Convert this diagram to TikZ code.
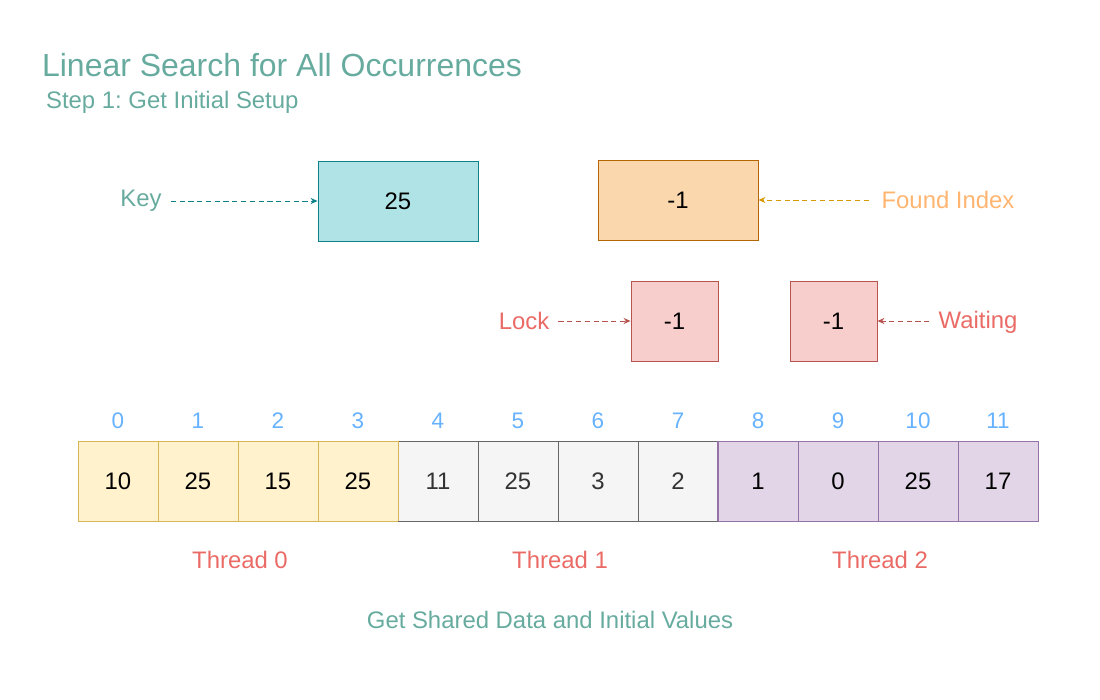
\documentclass[tikz,border=0pt]{standalone}
\usepackage{fontspec}
\setmainfont{Liberation Sans}
\usetikzlibrary{arrows.meta}
\frenchspacing
\definecolor{Mint}{HTML}{67AB9F}
\definecolor{Sky}{HTML}{66B2FF}
\definecolor{Coral}{HTML}{EA6B66}
\definecolor{Peach}{HTML}{FFB570}
\definecolor{TealFill}{HTML}{B0E3E6}
\definecolor{TealLine}{HTML}{0E8088}
\definecolor{OrangeFill}{HTML}{FAD7AC}
\definecolor{OrangeLine}{HTML}{B46504}
\definecolor{OrangeArrow}{HTML}{D79B00}
\definecolor{RedFill}{HTML}{F8CECC}
\definecolor{RedLine}{HTML}{B85450}
\definecolor{YellowFill}{HTML}{FFF2CC}
\definecolor{YellowLine}{HTML}{D6B656}
\definecolor{GreyFill}{HTML}{F5F5F5}
\definecolor{GreyLine}{HTML}{666666}
\definecolor{GreyText}{HTML}{333333}
\definecolor{LilacFill}{HTML}{E1D5E7}
\definecolor{LilacLine}{HTML}{9673A6}

\begin{document}
\begin{tikzpicture}[
  x=0.02cm, y=-0.02cm,
  every node/.style={font=\fontsize{13.6}{16}\selectfont, inner sep=1pt},
  num/.style={font=\fontsize{13.6}{16}\selectfont},
  box/.style={draw, line width=0.5pt, minimum width=3.2cm, minimum height=1.6cm, num},
  small/.style={box, minimum width=1.74cm},
  cell/.style={draw, line width=0.5pt, minimum width=1.6cm, minimum height=1.6cm, num},
  ptr/.style={densely dashed, line width=0.5pt, -{Stealth[length=4pt, width=3.5pt]},
    shorten <=4pt}
]

% canvas in pixel units (1100 x 700)
\useasboundingbox (0,0) rectangle (1100,700);

% ============================================================
% Titles
% ============================================================
\node[Mint, anchor=base west, font=\fontsize{18.2}{22}\selectfont] (title) at (40,76)
  {Linear Search for All Occurrences};
\node[Mint, anchor=base west] (subtitle) at (44,108) {Step 1: Get Initial Setup};

% ============================================================
% Shared values
% ============================================================
\node[box, fill=TealFill, draw=TealLine] (keybox) at (398,201) {25};
\node[box, fill=OrangeFill, draw=OrangeLine] (foundbox) at (678,200) {-1};
\node[small, fill=RedFill, draw=RedLine] (lockbox) at (674.5,321) {-1};
\node[small, fill=RedFill, draw=RedLine] (waitbox) at (833.5,321) {-1};

\node[Mint] (keylbl) at (141,201) {Key};
\node[Peach] (foundlbl) at (948,200) {Found Index};
\node[Coral] (locklbl) at (524,321) {Lock};
\node[Coral] (waitlbl) at (978,322) {Waiting};

\draw[ptr, TealLine] (keylbl.east |- keybox) -- (keybox);
\draw[ptr, OrangeArrow, shorten <=6pt] (foundlbl) -- (foundbox);
\draw[ptr, RedLine] (locklbl) -- (lockbox);
\draw[ptr, RedLine] (waitlbl.west |- waitbox) -- (waitbox);

% ============================================================
% Array split over three threads
% ============================================================
\def\ax{118}  % centre of first cell
\def\ay{481}  % centre row
\foreach \i/\v/\f/\d/\t in {0/10/YellowFill/YellowLine/black, 1/25/YellowFill/YellowLine/black,
    2/15/YellowFill/YellowLine/black, 3/25/YellowFill/YellowLine/black,
    4/11/GreyFill/GreyLine/GreyText, 5/25/GreyFill/GreyLine/GreyText,
    6/3/GreyFill/GreyLine/GreyText, 7/2/GreyFill/GreyLine/GreyText,
    8/1/LilacFill/LilacLine/black, 9/0/LilacFill/LilacLine/black,
    10/25/LilacFill/LilacLine/black, 11/17/LilacFill/LilacLine/black}{
  \node[cell, fill=\f, draw=\d, text=\t] (cell\i) at (\ax+\i*80, \ay) {\v};
  \node[Sky, font=\fontsize{12.8}{15}\selectfont] (idx\i) at (\ax+\i*80, 421) {\i};
}
% redraw thread borders on top
\draw[YellowLine, line width=0.5pt] (cell3.north east) -- (cell3.south east);
\draw[LilacLine, line width=0.5pt] (cell8.north west) -- (cell8.south west);

\node[Coral] (thread0) at (240,560) {Thread 0};
\node[Coral] (thread1) at (560,560) {Thread 1};
\node[Coral] (thread2) at (880,560) {Thread 2};

\node[Mint] (caption) at (550,620) {Get Shared Data and Initial Values};

\end{tikzpicture}
\end{document}
